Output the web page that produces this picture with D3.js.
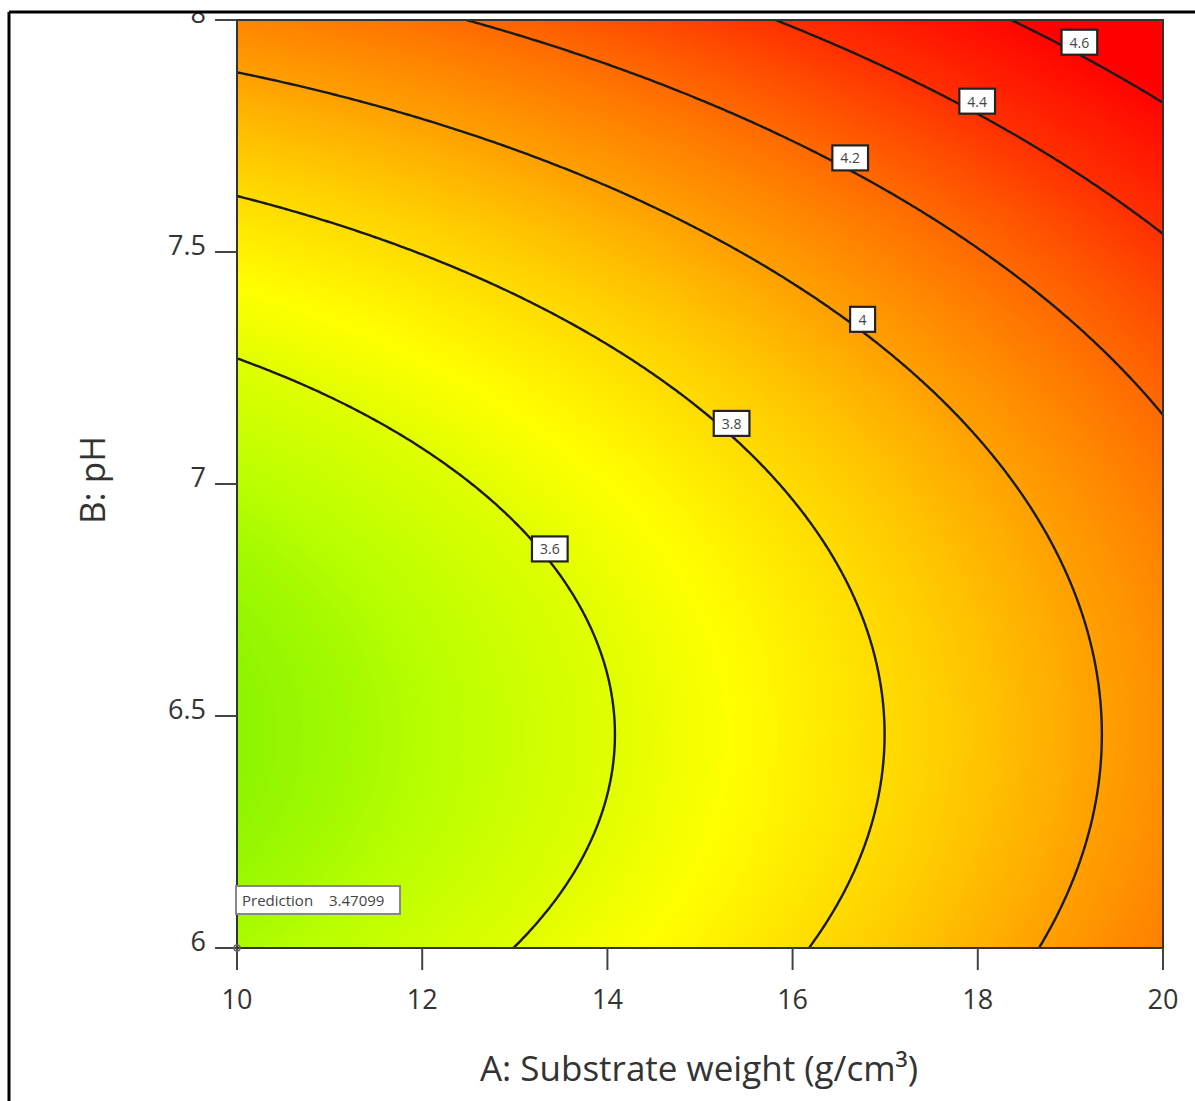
<!DOCTYPE html>
<html lang="en">
<head>
<meta charset="UTF-8">
<title>Contour - Substrate weight vs pH</title>
<style>
    body { margin: 0; padding: 0; background: #fff; }
    svg { display: block; font-family: 'Open Sans', 'Noto Sans', sans-serif; }
</style>
</head>
<body>
<svg width="1195" height="1101"></svg>
<script src="https://d3js.org/d3.v7.min.js"></script>
<script>
// fitted quadratic model, coded units: A = (x-15)/5, B = (pH-7)/1
const terms = ['Intercept', 'A', 'B', 'AB', 'A2', 'B2'];
const coefs = [3.74179, 0.3265, 0.313, 0, 0.0787, 0.29];

// axes
const xTicks = [10, 12, 14, 16, 18, 20];
const yTicks = [6, 6.5, 7, 7.5, 8];
const xTitle = 'A: Substrate weight (g/cm³)';
const yTitle = 'B: pH';

// contour levels and where their labels sit (A value along the line)
const levels = [3.6, 3.8, 4.0, 4.2, 4.4, 4.6];
const levelLabels = ['3.6', '3.8', '4', '4.2', '4.4', '4.6'];
const labelA = [13.38, 15.34, 16.75, 16.63, 17.99, 19.10];

// colour ramp
const colorValues = [3.41, 3.5, 3.68, 3.87, 4.0, 4.2, 4.4, 4.62];
const colorStops = ['#8cf500', '#bbff00', '#ffff00', '#ffc800', '#ffa000', '#ff6a00', '#ff3000', '#ff0000'];

// prediction flag
const flagA = 10, flagPH = 6;

const svg = d3.select('svg');
const plot = { left: 237, right: 1163, top: 20, bottom: 948 };

const x = d3.scaleLinear().domain([10, 20]).range([plot.left, plot.right]);
const y = d3.scaleLinear().domain([6, 8]).range([plot.bottom, plot.top]);
const color = d3.scaleLinear().domain(colorValues).range(colorStops).clamp(true);

function model(a, ph) {
    const A = (a - 15) / 5, B = ph - 7;
    const t = [1, A, B, A * B, A * A, B * B];
    return d3.sum(t, (v, i) => v * coefs[i]);
}

// evaluate on a grid
const n = 300, m = 300;
const grid = new Array(n * m);
for (let j = 0; j < m; j++) {
    const ph = 8 - j * 2 / (m - 1);
    for (let i = 0; i < n; i++) {
        grid[j * n + i] = model(10 + i * 10 / (n - 1), ph);
    }
}
// grid coords -> pixels (sample i sits at i + 0.5)
const gx = d3.scaleLinear().domain([0.5, n - 0.5]).range([plot.left, plot.right]);
const gy = d3.scaleLinear().domain([0.5, m - 0.5]).range([plot.top, plot.bottom]);
const path = d3.geoPath(d3.geoTransform({
    point: function (px, py) { this.stream.point(gx(px), gy(py)); }
}));

svg.append('clipPath').attr('id', 'clip')
    .append('rect')
    .attr('x', plot.left).attr('y', plot.top)
    .attr('width', plot.right - plot.left).attr('height', plot.bottom - plot.top);

const g = svg.append('g').attr('clip-path', 'url(#clip)');

// smooth fill from many thin bands
const step = 0.005;
const bands = d3.range(3.30, 4.85, step);
const fills = d3.contours().size([n, m]).thresholds(bands)(grid);
g.selectAll('path.band')
    .data(fills)
    .join('path')
    .attr('class', 'band')
    .attr('d', path)
    .attr('fill', d => color(d.value + step / 2))
    .attr('stroke', d => color(d.value + step / 2))
    .attr('stroke-width', 0.6);

// contour lines
const lines = d3.contours().size([n, m]).thresholds(levels)(grid);
g.selectAll('path.level')
    .data(lines)
    .join('path')
    .attr('class', 'level')
    .attr('d', path)
    .attr('fill', 'none')
    .attr('stroke', '#1a1a1a')
    .attr('stroke-width', 2.4);

// labels: box sits on the line, its bottom centre on the contour point
lines.forEach((c, k) => {
    const tx = x(labelA[k]);
    let best = null;
    c.coordinates.forEach(poly => poly.forEach(ring => ring.forEach(p => {
        const px = gx(p[0]), py = gy(p[1]);
        if (px <= plot.left + 2 || px >= plot.right - 2 || py <= plot.top + 2 || py >= plot.bottom - 2) return;
        const dx = Math.abs(px - tx);
        if (dx > 3) return;
        if (!best || py < best[1] - 5 || (Math.abs(py - best[1]) <= 5 && dx < best[2])) best = [px, py, dx];
    })));
    if (!best) return;
    const lab = svg.append('g').attr('transform', `translate(${best[0]},${best[1]})`);
    const t = lab.append('text')
        .attr('text-anchor', 'middle')
        .attr('y', -7)
        .attr('font-size', 14)
        .attr('fill', '#444')
        .text(levelLabels[k]);
    const w = Math.max(t.node().getComputedTextLength() + 16, 25);
    lab.insert('rect', 'text')
        .attr('x', -w / 2).attr('y', -25)
        .attr('width', w).attr('height', 25)
        .attr('fill', '#fff')
        .attr('stroke', '#222')
        .attr('stroke-width', 2.2);
});

// plot frame
svg.append('rect')
    .attr('x', plot.left).attr('y', plot.top)
    .attr('width', plot.right - plot.left).attr('height', plot.bottom - plot.top)
    .attr('fill', 'none')
    .attr('stroke', '#333')
    .attr('stroke-width', 2);

// x axis
const xa = svg.append('g');
xa.selectAll('line')
    .data(xTicks)
    .join('line')
    .attr('x1', d => x(d)).attr('x2', d => x(d))
    .attr('y1', plot.bottom).attr('y2', plot.bottom + 22)
    .attr('stroke', '#444').attr('stroke-width', 2);
xa.selectAll('text')
    .data(xTicks)
    .join('text')
    .attr('x', d => x(d)).attr('y', plot.bottom + 61)
    .attr('text-anchor', 'middle')
    .attr('font-size', 27)
    .attr('fill', '#333')
    .text(d => d);

// y axis
const ya = svg.append('g');
ya.selectAll('line')
    .data(yTicks)
    .join('line')
    .attr('x1', plot.left - 22).attr('x2', plot.left)
    .attr('y1', d => y(d)).attr('y2', d => y(d))
    .attr('stroke', '#444').attr('stroke-width', 2);
ya.selectAll('text')
    .data(yTicks)
    .join('text')
    .attr('x', plot.left - 31).attr('y', d => y(d) + 3)
    .attr('text-anchor', 'end')
    .attr('font-size', 27)
    .attr('fill', '#333')
    .text(d => d);

// axis titles
svg.append('text')
    .attr('x', 699).attr('y', 1081)
    .attr('text-anchor', 'middle')
    .attr('font-size', 35)
    .attr('fill', '#333')
    .text(xTitle);
svg.append('text')
    .attr('transform', 'translate(105,480) rotate(-90)')
    .attr('text-anchor', 'middle')
    .attr('font-size', 35)
    .attr('fill', '#333')
    .text(yTitle);

// prediction flag
svg.append('circle')
    .attr('cx', x(flagA)).attr('cy', y(flagPH)).attr('r', 3)
    .attr('fill', 'none').attr('stroke', '#666').attr('stroke-width', 1.5);
const pred = svg.append('g').attr('transform', `translate(${x(flagA) - 1},${y(flagPH) - 62})`);
pred.append('rect')
    .attr('x', 0).attr('y', 0)
    .attr('width', 164).attr('height', 28)
    .attr('fill', '#fff')
    .attr('stroke', '#888')
    .attr('stroke-width', 2);
pred.append('text')
    .attr('x', 6).attr('y', 20)
    .attr('font-size', 15)
    .attr('fill', '#444')
    .text('Prediction');
pred.append('text')
    .attr('x', 93).attr('y', 20)
    .attr('font-size', 15)
    .attr('fill', '#444')
    .text(d3.format('.6')(model(flagA, flagPH)));

// image frame (cropped screenshot)
svg.append('rect').attr('x', 0).attr('y', 0).attr('width', 1195).attr('height', 13).attr('fill', '#fff');
svg.append('line').attr('x1', 9).attr('x2', 1195).attr('y1', 12).attr('y2', 12)
    .attr('stroke', '#000').attr('stroke-width', 3);
svg.append('line').attr('x1', 9).attr('x2', 9).attr('y1', 12).attr('y2', 1101)
    .attr('stroke', '#000').attr('stroke-width', 3);
</script>
</body>
</html>
